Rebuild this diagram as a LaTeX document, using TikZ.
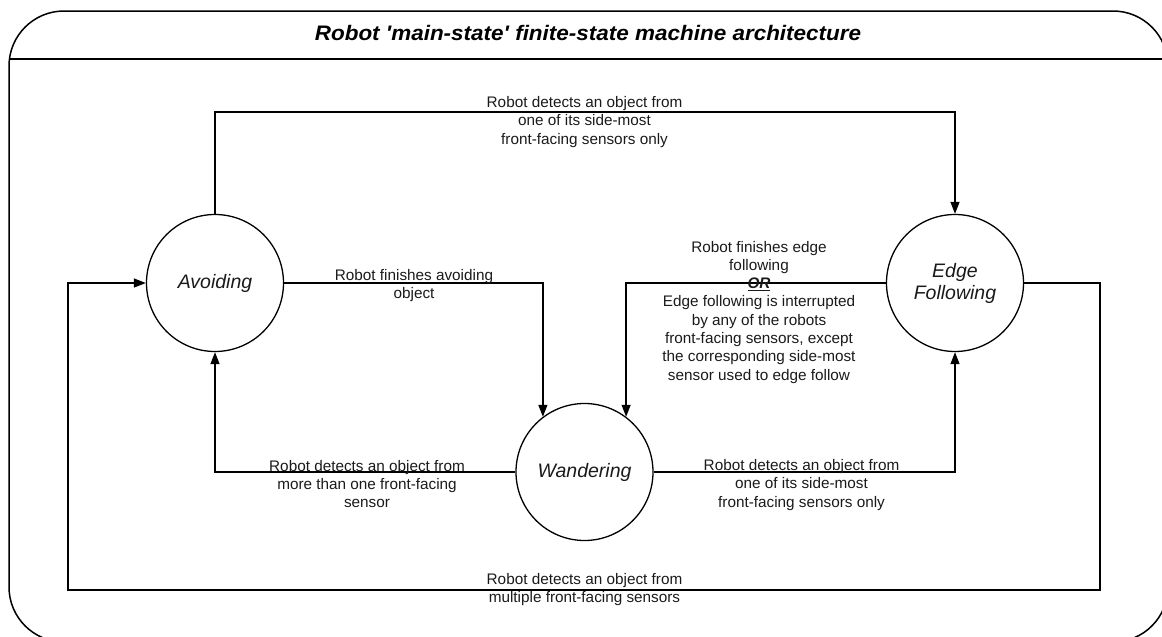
\documentclass[tikz,border=0pt]{standalone}
\usepackage{fontspec}
\setmainfont{Liberation Sans}
\newfontfamily\headfont{Liberation Sans}[Ligatures=TeXOff, FakeStretch=1.07]
\usetikzlibrary{arrows.meta}
\definecolor{ink}{HTML}{1A1A1A}
\tikzset{
  statenode/.style={circle, draw=black, line width=1.3pt, minimum size=137pt,
    inner sep=0pt, align=center, text=ink,
    font=\itshape\fontsize{19.5}{22}\selectfont},
  link/.style={draw=black, line width=1.3pt, -{Triangle[length=12pt,width=9pt]}},
  note/.style={anchor=north, inner sep=0pt, align=center, text=ink,
    font=\fontsize{15.3}{18.3}\selectfont},
}
\begin{document}
\begin{tikzpicture}[x=1pt,y=-1pt]
  \useasboundingbox (0,0) rectangle (1162,637);
  \clip (0,0) rectangle (1162,637);

  % frame with title bar
  \draw[line width=1.5pt, rounded corners=55pt] (9,11) rectangle (1168,642);
  \draw[line width=1.5pt] (9,59) -- (1168,59);
  \node[text=black, font=\headfont\bfseries\itshape\fontsize{21}{24}\selectfont]
    (title) at (588,32.5) {Robot 'main-state' finite-state machine architecture};

  % states
  \node[statenode] (av) at (215,283) {Avoiding};
  \node[statenode] (wa) at (584.5,472) {Wandering};
  \node[statenode] (ef) at (955,283) {Edge\\Following};

  % routing points
  \coordinate (topy) at (0,112);
  \coordinate (rloop) at (1100,590);
  \coordinate (lloop) at (68,590);

  % transitions
  \draw[link] (av.north) -- (av.north |- topy) -- (ef.north |- topy) -- (ef.north);
  \draw[link] (av.east) -| (wa.127);
  \draw[link] (ef.west) -| (wa.53);
  \draw[link] (wa.west) -| (av.south);
  \draw[link] (wa.east) -| (ef.south);
  \draw[link] (ef.east) -| (rloop) -- (lloop) |- (av.west);

  % transition labels
  \node[note] (l1) at (584.5,96.3) {Robot detects an object from\\one of its side-most\\front-facing sensors only};
  \node[note] (l2) at (414,268.8) {Robot finishes avoiding\\object};
  \node[note] (l3) at (759,240.8) {Robot finishes edge\\following\\\underline{\textbf{\textit{OR}}}\\Edge following is interrupted\\by any of the robots\\front-facing sensors, except\\the corresponding side-most\\sensor used to edge follow};
  \node[note] (l4) at (367,459.8) {Robot detects an object from\\more than one front-facing\\sensor};
  \node[note] (l5) at (801.5,459.3) {Robot detects an object from\\one of its side-most\\front-facing sensors only};
  \node[note] (l6) at (584.5,573.3) {Robot detects an object from\\multiple front-facing sensors};
\end{tikzpicture}
\end{document}
